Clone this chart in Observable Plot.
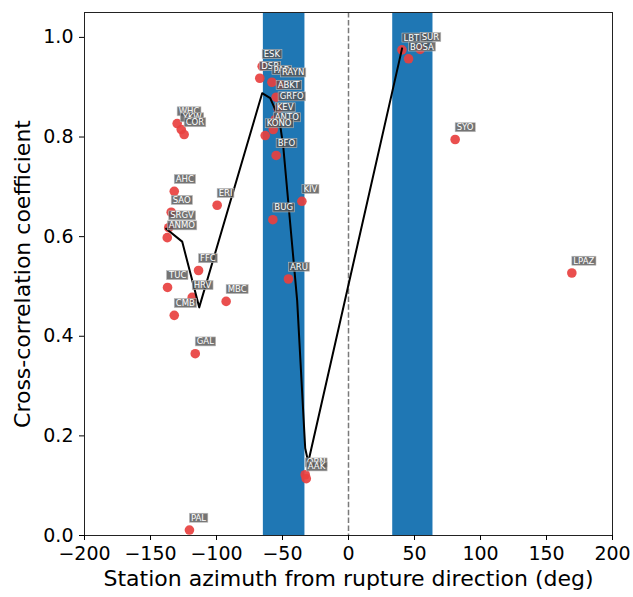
<!DOCTYPE html>
<html><head><meta charset="utf-8">
<script src="https://cdn.jsdelivr.net/npm/d3@7"></script>
<script src="https://cdn.jsdelivr.net/npm/@observablehq/plot@0.6"></script>
<style>body{margin:0;background:#fff}</style>
</head><body><div id="chart"></div>
<script>
// Stations: name, azimuth from rupture direction (deg), cross-correlation coefficient
const stations = ["WHC","YKW","COR","AHC","SAO","SRGV","ANMO","ERI","FFC","TUC","HRV","CMB","MBC","GAL","PAL",
  "ESK","DSB","PAB","RAYN","ABKT","GRFO","KEV","ANTO","KONO","BFO","BUG","KIV","ARU","OBN","AAK",
  "LBTB","SUR","BOSA","SYO","LPAZ"];
const azimuth = [-129.8,-126.7,-124.5,-132.0,-134.3,-136.2,-137.3,-99.5,-113.6,-137.1,-118.4,-132.0,-92.7,-116.1,-120.5,
  -65.4,-67.2,-58.0,-51.5,-54.8,-53.3,-55.5,-57.0,-63.1,-54.8,-57.3,-35.3,-45.5,-32.8,-32.0,
  40.5,54.3,45.5,80.8,169.2];
const coefficient = [0.827,0.815,0.805,0.691,0.649,0.618,0.598,0.663,0.532,0.498,0.478,0.442,0.470,0.365,0.011,
  0.942,0.918,0.910,0.905,0.880,0.857,0.835,0.815,0.803,0.763,0.634,0.671,0.515,0.122,0.114,
  0.975,0.976,0.957,0.795,0.527];

// Smoothed trend line
const trendAzimuth = [-138.1,-126.0,-113.1,-65.4,-59.3,-52.5,-49.5,-38.9,-32.8,-30.5,40.6];
const trendCoefficient = [0.616,0.590,0.458,0.888,0.878,0.837,0.783,0.472,0.175,0.147,0.978];

// Shaded azimuth bands
const bandStart = [-64.5, 33.5];
const bandEnd = [-33, 64];

const xTicks = [-200,-150,-100,-50,0,50,100,150,200];
const yTicks = [0,0.2,0.4,0.6,0.8,1.0];
const xLabel = "Station azimuth from rupture direction (deg)";
const yLabel = "Cross-correlation coefficient";

const pts = stations.map((s,i)=>({s, x: azimuth[i], y: coefficient[i]}));
const trend = trendAzimuth.map((x,i)=>({x, y: trendCoefficient[i]}));
const bands = bandStart.map((a,i)=>({a, b: bandEnd[i]}));
const zero = [0];

const chart = Plot.plot({
  width: 633, height: 597,
  marginLeft: 84, marginRight: 21, marginTop: 12, marginBottom: 62,
  style: {fontFamily: "DejaVu Sans", fontSize: "19px", background: "white", color: "black"},
  x: {domain: [-200,200]},
  y: {domain: [0,1.05]},
  marks: [
    Plot.rect(bands, {x1: "a", x2: "b", fill: "#1f77b4"}),
    Plot.ruleX(zero, {stroke: "#7a7a7a", strokeWidth: 1.5, strokeDasharray: "5.5,2.4"}),
    Plot.dot(pts, {x: "x", y: "y", r: 4.8, fill: "#e8403f", fillOpacity: 0.92}),
    Plot.line(trend, {x: "x", y: "y", stroke: "black", strokeWidth: 2}),
    Plot.text(pts, {x: "x", y: "y", text: "s", textAnchor: "start", dx: 1.5, dy: -12, fontSize: 8.5,
      fill: "white"}),
    Plot.frame({stroke: "#222"}),
    Plot.axisX({ticks: xTicks, tickSize: 5, tickPadding: 6, fontSize: 19, label: null, tickFormat: d3.format("d")}),
    Plot.axisY({ticks: yTicks, tickSize: 5, tickPadding: 6, fontSize: 19, label: null, tickFormat: d3.format(".1f")}),
    Plot.text([xLabel], {frameAnchor: "bottom", lineAnchor: "middle", textAnchor: "middle", dy: 43, fontSize: 22}),
    Plot.text([yLabel], {frameAnchor: "left", textAnchor: "middle", lineAnchor: "middle", rotate: -90, dx: -62, fontSize: 22})
  ]
});
document.getElementById("chart").appendChild(chart);

// Boxes behind station labels (like annotation bboxes)
const labelGroup = chart.querySelector('g[aria-label="text"]');
if (labelGroup) {
  labelGroup.querySelectorAll("text").forEach(t => {
    const b = t.getBBox();
    const r = document.createElementNS("http://www.w3.org/2000/svg", "rect");
    r.setAttribute("x", b.x - 1.5);
    r.setAttribute("y", b.y + 0.5);
    r.setAttribute("width", b.width + 3);
    r.setAttribute("height", b.height - 1);
    const tr = t.getAttribute("transform");
    if (tr) r.setAttribute("transform", tr);
    r.setAttribute("fill", "#555");
    r.setAttribute("fill-opacity", "0.82");
    r.setAttribute("stroke", "#bbb");
    r.setAttribute("stroke-width", "0.6");
    labelGroup.insertBefore(r, t);
  });
}
</script>
</body></html>
